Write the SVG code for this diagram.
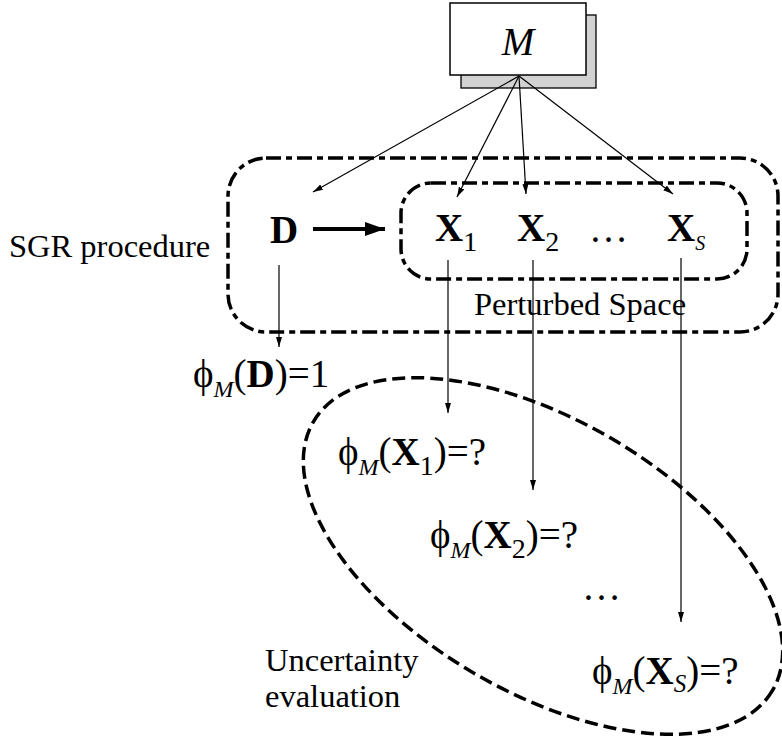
<svg xmlns="http://www.w3.org/2000/svg" width="782" height="738" viewBox="0 0 782 738">
<style>
.t{font-family:"Liberation Serif","Times New Roman","DejaVu Serif",serif;fill:#000}
.big{font-size:39px}
.lab{font-size:32.5px}
.b{font-weight:bold}
.i{font-style:italic}
.sub{font-size:28px}
.subm{font-size:24px;font-style:italic}
.dd{fill:none;stroke:#000;stroke-width:3.5;stroke-dasharray:15 5 6 5}
.el{fill:none;stroke:#000;stroke-width:3.5;stroke-dasharray:13 6}
.thin{stroke:#000;stroke-width:1.2;fill:none}
</style>
<defs>
<marker id="ah" viewBox="0 0 10 6" refX="10" refY="3" markerWidth="10" markerHeight="6" orient="auto" markerUnits="userSpaceOnUse"><path d="M0,0 L10,3 L0,6 z" fill="#000"/></marker>
<marker id="ahb" viewBox="0 0 20 14" refX="20" refY="7" markerWidth="20" markerHeight="14" orient="auto" markerUnits="userSpaceOnUse"><path d="M0,0 L20,7 L0,14 z" fill="#000"/></marker>
</defs>

<g id="model">
<rect x="461" y="15" width="135" height="73" fill="#d2d2d2" stroke="#000" stroke-width="1.3"/>
<rect x="450" y="3" width="136" height="72" fill="#fff" stroke="#000" stroke-width="1.5"/>
<text class="t big i" x="518" y="55" text-anchor="middle">M</text>
</g>

<g id="sgr">
<rect class="dd" x="228" y="158" width="550" height="174" rx="38" ry="38"/>
<text class="t lab" x="9" y="257">SGR procedure</text>
</g>

<g id="perturbed">
<rect class="dd" x="401" y="183" width="346" height="96" rx="30" ry="30"/>
<text class="t lab" x="474" y="315">Perturbed Space</text>
</g>

<g id="D"><text class="t big b" x="270" y="243">D</text></g>
<g id="X1"><text class="t big" x="435" y="241"><tspan class="b">X</tspan><tspan class="sub" dy="10">1</tspan></text></g>
<g id="X2"><text class="t big" x="517" y="241"><tspan class="b">X</tspan><tspan class="sub" dy="10">2</tspan></text></g>
<g id="dots1"><text class="t big" x="589" y="242">…</text></g>
<g id="XS"><text class="t big" x="667" y="241"><tspan class="b">X</tspan><tspan class="i" font-size="20" dy="9">S</tspan></text></g>

<g id="phiD"><text class="t big" x="193" y="387">ϕ<tspan class="subm" dy="10">M</tspan><tspan dy="-10">(</tspan><tspan class="b">D</tspan>)=1</text></g>

<g id="uncertainty">
<ellipse class="el" cx="543" cy="556" rx="266" ry="136" transform="rotate(30.3 543 556)"/>
<text class="t lab" x="265" y="671">Uncertainty</text>
<text class="t lab" x="265" y="707">evaluation</text>
</g>

<g id="phiX1"><text class="t big" x="338" y="465">ϕ<tspan class="subm" dy="10">M</tspan><tspan dy="-10">(</tspan><tspan class="b">X</tspan><tspan class="sub" dy="10">1</tspan><tspan dy="-10">)=?</tspan></text></g>
<g id="phiX2"><text class="t big" x="430" y="548">ϕ<tspan class="subm" dy="10">M</tspan><tspan dy="-10">(</tspan><tspan class="b">X</tspan><tspan class="sub" dy="10">2</tspan><tspan dy="-10">)=?</tspan></text></g>
<g id="dots2"><text class="t big" x="582" y="600">…</text></g>
<g id="phiXS"><text class="t big" x="592" y="684">ϕ<tspan class="subm" dy="10">M</tspan><tspan dy="-10">(</tspan><tspan class="b">X</tspan><tspan class="i" font-size="25" dy="8">S</tspan><tspan dy="-8">)=?</tspan></text></g>

<g id="connectors">
<line class="thin" x1="519" y1="76" x2="313" y2="192" marker-end="url(#ah)"/>
<line class="thin" x1="519" y1="76" x2="457" y2="197" marker-end="url(#ah)"/>
<line class="thin" x1="519" y1="76" x2="526" y2="194" marker-end="url(#ah)"/>
<line class="thin" x1="519" y1="76" x2="673" y2="194" marker-end="url(#ah)"/>
<line x1="313" y1="229" x2="385" y2="229" stroke="#000" stroke-width="4" marker-end="url(#ahb)"/>
<line class="thin" x1="279" y1="265" x2="279" y2="347" marker-end="url(#ah)"/>
<line class="thin" x1="448" y1="260" x2="448" y2="413" marker-end="url(#ah)"/>
<line class="thin" x1="533" y1="260" x2="533" y2="490" marker-end="url(#ah)"/>
<line class="thin" x1="681" y1="258" x2="681" y2="622" marker-end="url(#ah)"/>
</g>
</svg>
